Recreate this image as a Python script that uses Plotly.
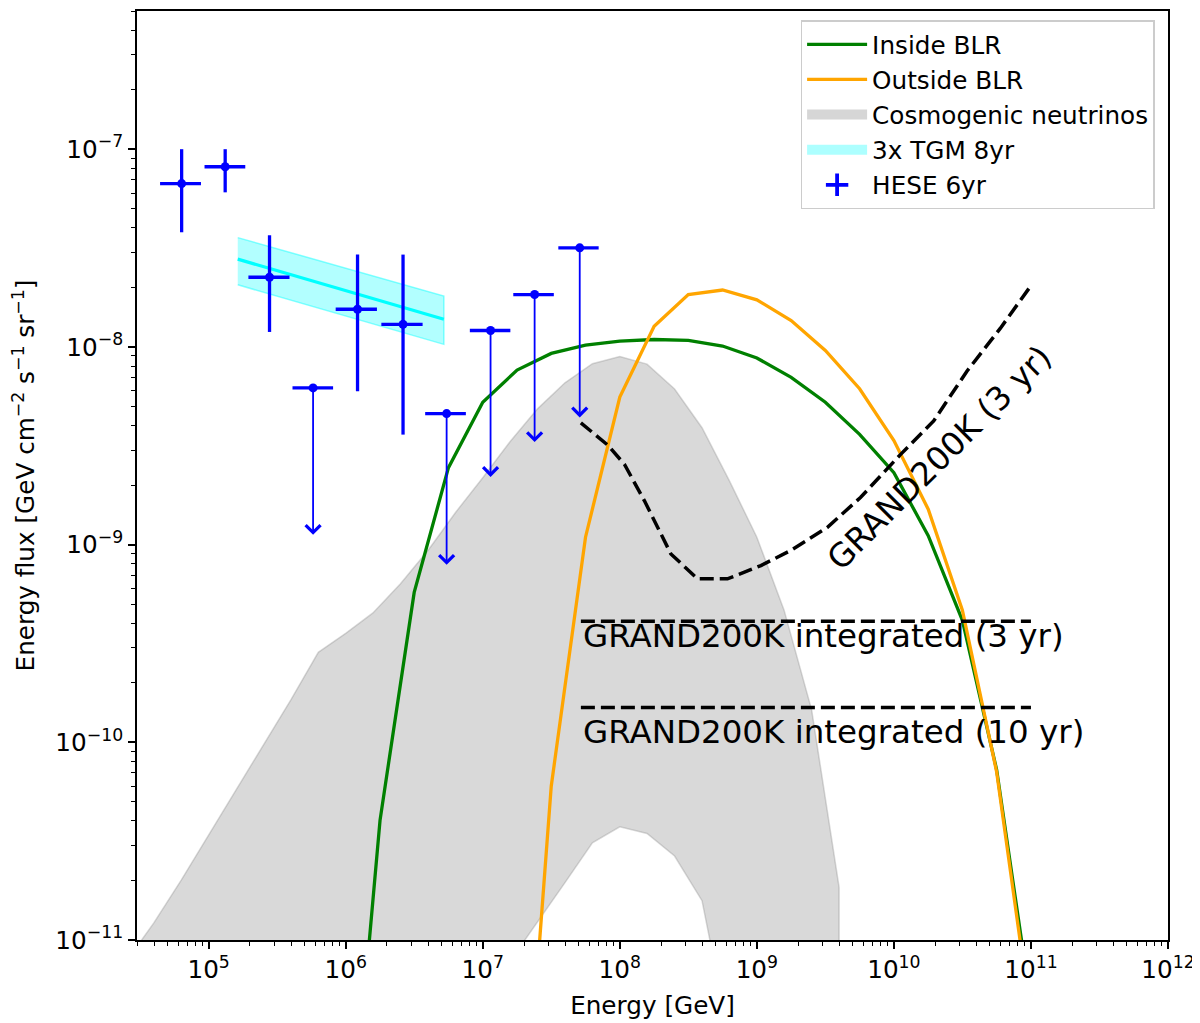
import numpy as np
import plotly.graph_objects as go

# blazar models, E^2 dN/dE in GeV cm^-2 s^-1 sr^-1, sampled 4 per decade
blr_energy = [1.00e6, 1.78e6, 3.16e6, 5.62e6, 1.00e7, 1.78e7, 3.16e7, 5.62e7,
              1.00e8, 1.78e8, 3.16e8, 5.62e8, 1.00e9, 1.78e9, 3.16e9, 5.62e9,
              1.00e10, 1.78e10, 3.16e10, 5.62e10, 1.00e11]
inside_blr = [4.5e-13, 4.03e-11, 5.73e-10, 2.45e-9, 5.25e-9, 7.64e-9, 9.27e-9, 1.02e-8,
              1.07e-8, 1.09e-8, 1.08e-8, 1.01e-8, 8.79e-9, 7.01e-9, 5.25e-9, 3.61e-9,
              2.31e-9, 1.11e-9, 4.14e-10, 7.26e-11, 4.7e-12]
outside_blr = [None, None, None, None, None, 3.0e-13, 6.0e-11, 1.09e-9,
               5.57e-9, 1.27e-8, 1.84e-8, 1.94e-8, 1.73e-8, 1.36e-8, 9.59e-9, 6.14e-9,
               3.36e-9, 1.51e-9, 4.66e-10, 7.08e-11, 4.0e-12]

# cosmogenic neutrino band
cosmo_energy = [2.51e4, 3.98e4, 6.31e4, 1.00e5, 1.58e5, 2.51e5, 3.98e5, 6.31e5, 1.00e6,
                1.58e6, 2.51e6, 3.98e6, 6.31e6, 1.00e7, 1.58e7, 2.51e7, 3.98e7, 6.31e7,
                1.00e8, 1.58e8, 2.51e8, 3.98e8, 6.31e8, 1.00e9, 1.58e9, 2.51e9, 3.98e9]
cosmo_upper = [7.8e-12, 1.22e-11, 2.01e-11, 3.40e-11, 5.75e-11, 9.7e-11, 1.64e-10, 2.85e-10,
               3.56e-10, 4.51e-10, 6.34e-10, 9.33e-10, 1.45e-9, 2.18e-9, 3.31e-9, 4.86e-9,
               6.58e-9, 8.22e-9, 8.95e-9, 8.18e-9, 6.12e-9, 3.90e-9, 2.10e-9, 1.09e-9,
               4.66e-10, 1.46e-10, 1.85e-11]
cosmo_lower = [1e-13, 1e-13, 1e-13, 1e-13, 1e-13, 1e-13, 1e-13, 1e-13, 1e-13,
               1e-13, 1e-13, 1e-13, 1e-13, 1e-13, 7.8e-12, 1.24e-11, 1.95e-11, 3.10e-11,
               3.74e-11, 3.46e-11, 2.66e-11, 1.58e-11, 3.2e-12, 1e-13, 1e-13, 1e-13, 1e-13]

# 3x through-going muons 8yr
tgm_energy = [1.63e5, 5.2e6]
tgm_flux = [2.78e-8, 1.38e-8]
tgm_upper = [3.57e-8, 1.81e-8]
tgm_lower = [2.06e-8, 1.03e-8]

# HESE 6yr measured points
hese_e = [6.35e4, 1.32e5, 2.78e5, 1.22e6, 2.62e6]
hese_e_lo = [4.42e4, 9.33e4, 1.95e5, 8.45e5, 1.82e6]
hese_e_hi = [8.79e4, 1.85e5, 3.89e5, 1.69e6, 3.64e6]
hese_f = [6.7e-8, 8.15e-8, 2.25e-8, 1.55e-8, 1.30e-8]
hese_f_lo = [3.8e-8, 6.05e-8, 1.19e-8, 5.97e-9, 3.6e-9]
hese_f_hi = [1.0e-7, 1.0e-7, 3.67e-8, 2.93e-8, 2.93e-8]

# HESE 6yr upper limits
ul_e = [5.78e5, 5.45e6, 1.14e7, 2.39e7, 5.1e7]
ul_e_lo = [4.09e5, 3.80e6, 8.05e6, 1.67e7, 3.56e7]
ul_e_hi = [8.09e5, 7.53e6, 1.59e7, 3.30e7, 7.01e7]
ul_f = [6.2e-9, 4.6e-9, 1.21e-8, 1.84e-8, 3.17e-8]
ul_arrow_end = [1.12e-9, 7.9e-10, 2.2e-9, 3.3e-9, 4.4e-9]

# GRAND200K sensitivities
grand_energy = [5.2e7, 8.15e7, 1.08e8, 1.51e8, 2.36e8, 3.69e8, 6.10e8, 1.07e9,
                1.76e9, 3.26e9, 5.70e9, 1.12e10, 1.95e10, 3.41e10, 5.97e10, 1.0e11]
grand_3yr = [4.13e-9, 3.19e-9, 2.55e-9, 1.67e-9, 8.97e-10, 6.71e-10, 6.71e-10, 7.83e-10,
             9.33e-10, 1.22e-9, 1.73e-9, 2.86e-9, 4.22e-9, 7.53e-9, 1.24e-8, 2.04e-8]
integrated_energy = [5.2e7, 1.0e11]
integrated_3yr = [4.1e-10, 4.1e-10]
integrated_10yr = [1.5e-10, 1.5e-10]

FONT = "DejaVu Sans"
BASE = 24.7
BIG = 32.5
GREY_FILL = "rgba(128,128,128,0.3)"
CYAN_FILL = "rgba(0,255,255,0.3)"

fig = go.Figure()

fig.add_trace(go.Scatter(
    x=cosmo_energy + cosmo_energy[::-1], y=cosmo_upper + cosmo_lower[::-1],
    fill="toself", fillcolor=GREY_FILL, mode="lines",
    line=dict(color=GREY_FILL, width=1.5), showlegend=False))

fig.add_trace(go.Scatter(
    x=tgm_energy + tgm_energy[::-1], y=tgm_upper + tgm_lower[::-1],
    fill="toself", fillcolor=CYAN_FILL, mode="lines",
    line=dict(color="rgba(0,255,255,0.45)", width=1.5), showlegend=False))
fig.add_trace(go.Scatter(x=tgm_energy, y=tgm_flux, mode="lines",
                         line=dict(color="cyan", width=3.3), showlegend=False))

fig.add_trace(go.Scatter(x=blr_energy, y=inside_blr, mode="lines",
                         line=dict(color="green", width=3.3),
                         name="Inside BLR", legendrank=1))
fig.add_trace(go.Scatter(x=blr_energy, y=outside_blr, mode="lines",
                         line=dict(color="orange", width=3.3),
                         name="Outside BLR", legendrank=2))

# legend swatches for the two bands
fig.add_trace(go.Scatter(x=[None], y=[None], mode="lines",
                         line=dict(color="rgba(128,128,128,0.32)", width=17),
                         name="Cosmogenic neutrinos", legendrank=3))
fig.add_trace(go.Scatter(x=[None], y=[None], mode="lines",
                         line=dict(color="rgba(0,255,255,0.32)", width=17),
                         name="3x TGM 8yr", legendrank=4))

dash = "14px,6px"
fig.add_trace(go.Scatter(x=grand_energy, y=grand_3yr, mode="lines",
                         line=dict(color="black", width=3.5, dash=dash), showlegend=False))
fig.add_trace(go.Scatter(x=integrated_energy, y=integrated_3yr, mode="lines",
                         line=dict(color="black", width=3.5, dash=dash), showlegend=False))
fig.add_trace(go.Scatter(x=integrated_energy, y=integrated_10yr, mode="lines",
                         line=dict(color="black", width=3.5, dash=dash), showlegend=False))

# HESE points
e = np.array(hese_e)
f = np.array(hese_f)
fig.add_trace(go.Scatter(
    x=hese_e, y=hese_f, mode="markers",
    marker=dict(color="blue", size=9),
    error_x=dict(type="data", symmetric=False, array=np.array(hese_e_hi) - e,
                 arrayminus=e - np.array(hese_e_lo), color="blue", thickness=3.3, width=0),
    error_y=dict(type="data", symmetric=False, array=np.array(hese_f_hi) - f,
                 arrayminus=f - np.array(hese_f_lo), color="blue", thickness=3.3, width=0),
    showlegend=False))
ue = np.array(ul_e)
fig.add_trace(go.Scatter(
    x=ul_e, y=ul_f, mode="markers",
    marker=dict(color="blue", size=9),
    error_x=dict(type="data", symmetric=False, array=np.array(ul_e_hi) - ue,
                 arrayminus=ue - np.array(ul_e_lo), color="blue", thickness=3.3, width=0),
    showlegend=False))
fig.add_trace(go.Scatter(
    x=[None], y=[None], mode="markers",
    marker=dict(symbol="cross-thin", size=20, line=dict(color="blue", width=3.8)),
    name="HESE 6yr", legendrank=5))

annotations = []
for x0, top, end in zip(ul_e, ul_f, ul_arrow_end):
    annotations.append(dict(
        x=np.log10(x0), y=np.log10(end), ax=np.log10(x0), ay=np.log10(top),
        xref="x", yref="y", axref="x", ayref="y", text="", showarrow=True,
        arrowhead=4, arrowsize=1.6, arrowwidth=1.8, arrowcolor="blue"))

annotations += [
    dict(x=np.log10(5.2e7), y=np.log10(3.45e-10), xref="x", yref="y",
         text="GRAND200K integrated (3 yr)", showarrow=False,
         xanchor="left", yanchor="middle", font=dict(size=BIG, color="black")),
    dict(x=np.log10(5.2e7), y=np.log10(1.13e-10), xref="x", yref="y",
         text="GRAND200K integrated (10 yr)", showarrow=False,
         xanchor="left", yanchor="middle", font=dict(size=BIG, color="black")),
    dict(x=np.log10(2.14e10), y=np.log10(2.75e-9), xref="x", yref="y",
         text="GRAND200K (3 yr)", showarrow=False, textangle=-45,
         xanchor="center", yanchor="middle", font=dict(size=BIG, color="black")),
]

x_major = [1e5, 1e6, 1e7, 1e8, 1e9, 1e10, 1e11, 1e12]
x_labels = ["10<sup>%d</sup>" % p for p in range(5, 13)]
x_minor = [m * 10.0 ** p for p in range(4, 12) for m in range(2, 10) if m * 10.0 ** p >= 3e4]
y_major = [1e-11, 1e-10, 1e-9, 1e-8, 1e-7]
y_labels = ["10<sup>\u2212%d</sup>" % p for p in range(11, 6, -1)]
y_minor = [m * 10.0 ** p for p in range(-11, -6) for m in range(2, 10) if m * 10.0 ** p <= 5e-7]

axis_style = dict(showline=True, linecolor="black", linewidth=1.6, mirror=True,
                  ticks="outside", ticklen=7, tickwidth=1.6, tickcolor="black",
                  showgrid=False, zeroline=False,
                  tickfont=dict(size=BASE, color="black", family=FONT))

fig.update_xaxes(type="log", range=[np.log10(3e4), 12], tickvals=x_major, ticktext=x_labels,
                 minor=dict(tickvals=x_minor, ticks="outside", ticklen=4, tickwidth=1.2,
                            tickcolor="black", showgrid=False),
                 title=dict(text="Energy [GeV]", standoff=13,
                            font=dict(size=BASE, color="black", family=FONT)),
                 **axis_style)
fig.update_yaxes(type="log", range=[-11, np.log10(5e-7)], tickvals=y_major, ticktext=y_labels,
                 minor=dict(tickvals=y_minor, ticks="outside", ticklen=4, tickwidth=1.2,
                            tickcolor="black", showgrid=False),
                 title=dict(text="Energy flux [GeV cm<sup>\u22122</sup> s<sup>\u22121</sup> sr<sup>\u22121</sup>]",
                            standoff=14, font=dict(size=BASE, color="black", family=FONT)),
                 **axis_style)

# the page body adds an 8px offset, so the figure is drawn 8px smaller
fig.update_layout(
    width=1192, height=1018,
    margin=dict(l=129, r=32, t=3, b=86, autoexpand=False),
    plot_bgcolor="white", paper_bgcolor="white",
    font=dict(family=FONT, size=BASE, color="black"),
    annotations=annotations,
    legend=dict(x=0.987, y=0.990, xanchor="right", yanchor="top",
                bordercolor="#cccccc", borderwidth=1.5, bgcolor="rgba(255,255,255,0.85)",
                font=dict(size=BASE, family=FONT, color="black"), itemwidth=60,
                tracegroupgap=0),
)

fig.write_html("out.html")
